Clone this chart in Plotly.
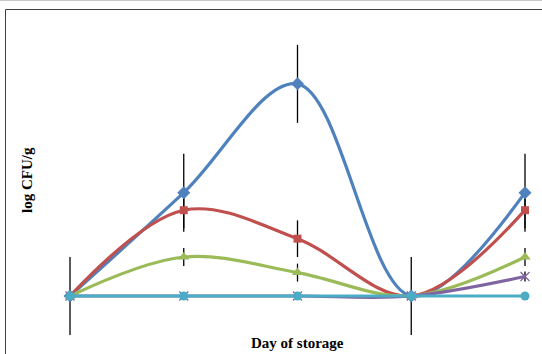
import plotly.graph_objects as go

# Data (log CFU/g)
days = [1, 2, 3, 4, 5]
blue = [0.0, 2.65, 5.44, 0.0, 2.65]
red = [0.0, 2.2, 1.47, 0.0, 2.2]
green = [0.0, 1.0, 0.6, 0.0, 1.0]
purple = [0.0, 0.0, 0.0, 0.0, 0.5]
teal = [0.0, 0.0, 0.0, 0.0, 0.0]

blue_err = [1.0, 1.0, 1.0, 1.0, 1.0]
red_err = [0.0, 0.46, 0.47, 0.0, 0.46]
green_err = [0.0, 0.23, 0.23, 0.0, 0.23]
purple_err = [0.0, 0.0, 0.0, 0.0, 0.13]

series = [
    ("Series 1", blue, "#4F81BD", "diamond", 10),
    ("Series 2", red, "#C0504D", "square", 8),
    ("Series 3", green, "#9BBB59", "triangle-up", 10),
    ("Series 4", purple, "#8064A2", "x-thin", 9),
    ("Series 5", teal, "#4BACC6", "circle", 9),
]
errors = [blue_err, red_err, green_err, purple_err]
err_vals = [blue, red, green, purple]

fig = go.Figure()

# error bars drawn first (behind the lines)
for vals, err in zip(err_vals, errors):
    fig.add_trace(go.Scatter(
        x=days, y=vals, mode="markers",
        marker=dict(size=1, color="rgba(0,0,0,0)"),
        error_y=dict(type="data", array=err, visible=True, color="#000000",
                     thickness=1.3, width=0),
        showlegend=False, hoverinfo="skip"))

for name, vals, color, sym, size in series:
    marker = dict(symbol=sym, size=size, color=color)
    if sym == "x-thin":
        marker["line"] = dict(color=color, width=1.3)
    fig.add_trace(go.Scatter(
        x=days, y=vals, mode="lines+markers", name=name,
        line=dict(color=color, width=3.2, shape="spline", smoothing=1),
        marker=marker, showlegend=False))

W, H = 542, 354
x0_px, dx_px = 70, 113.75
y0_px, dy_px = 296, 39.0

fig.update_xaxes(range=[1 - x0_px / dx_px, 5 + (W - 525) / dx_px],
                 visible=False, fixedrange=True)
fig.update_yaxes(range=[-(H - y0_px) / dy_px, y0_px / dy_px],
                 visible=False, fixedrange=True)

shapes = [
    dict(type="line", xref="paper", yref="paper",
         x0=5.5 / W, x1=1.0, y0=1 - 9.5 / H, y1=1 - 9.5 / H,
         line=dict(color="#404040", width=1)),
    dict(type="line", xref="paper", yref="paper",
         x0=5.5 / W, x1=5.5 / W, y0=1 - 9.5 / H, y1=0,
         line=dict(color="#404040", width=1)),
    dict(type="line", xref="paper", yref="paper",
         x0=0, x1=1, y0=1 - 0.5 / H, y1=1 - 0.5 / H,
         line=dict(color="#c8c8c8", width=1)),
]

annotations = [
    dict(text="<b>log CFU/g</b>", xref="paper", yref="paper",
         x=27 / W, y=1 - 180 / H, showarrow=False, textangle=-90,
         font=dict(family="Liberation Serif", size=15, color="#000000"),
         xanchor="center", yanchor="middle"),
    dict(text="<b>Day of storage</b>", xref="paper", yref="paper",
         x=297.5 / W, y=1 - 343 / H, showarrow=False,
         font=dict(family="Liberation Serif", size=15, color="#000000"),
         xanchor="center", yanchor="middle"),
]

fig.update_layout(
    width=W, height=H,
    margin=dict(l=0, r=0, t=0, b=0),
    paper_bgcolor="white", plot_bgcolor="white",
    shapes=shapes, annotations=annotations,
    hovermode=False,
)

fig.write_html(
    "out.html",
    config={"displayModeBar": False, "staticPlot": True},
    post_script="document.body.style.margin='0';document.body.style.overflow='hidden';",
)
